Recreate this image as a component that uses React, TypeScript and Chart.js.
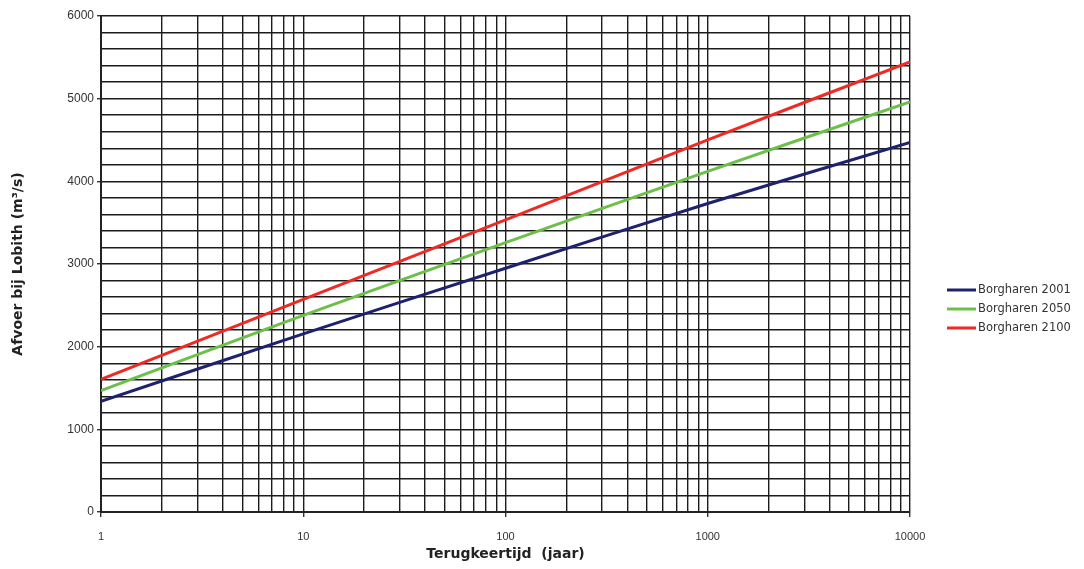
import React, { useEffect, useRef } from "react";
import { Chart, registerables } from "chart.js";

Chart.register(...registerables);

// Return period (years) and discharge series (m3/s)
const returnPeriods = [1, 10, 100, 1000, 10000];
const borgharen2001 = [1340, 2155, 2949, 3732, 4472];
const borgharen2050 = [1470, 2379, 3258, 4120, 4962];
const borgharen2100 = [1605, 2573, 3533, 4502, 5445];

const seriesLabels = ["Borgharen 2001", "Borgharen 2050", "Borgharen 2100"];
const seriesColors = ["#1e226e", "#6cc04a", "#ee2a24"];

const xTickLabels = [1, 10, 100, 1000, 10000];
const yTickLabels = [0, 1000, 2000, 3000, 4000, 5000, 6000];

const FONT = "'DejaVu Sans', Lato, sans-serif";
const TICKFONT = "'Liberation Sans', Arial, sans-serif";

const legendPlugin = {
  id: "sideLegend",
  afterDraw(chart: any) {
    const ctx = chart.ctx;
    ctx.save();
    chart.data.datasets.forEach((ds: any, i: number) => {
      const y = 290 + i * 19;
      ctx.strokeStyle = ds.borderColor;
      ctx.lineWidth = 3;
      ctx.beginPath();
      ctx.moveTo(947, y);
      ctx.lineTo(976, y);
      ctx.stroke();
      ctx.fillStyle = "#333";
      ctx.font = `11.5px ${FONT}`;
      ctx.textBaseline = "middle";
      ctx.textAlign = "left";
      ctx.fillText(ds.label, 978, y + 0.5);
    });
    ctx.restore();
  },
};

export default function App() {
  const ref = useRef<HTMLCanvasElement | null>(null);

  useEffect(() => {
    if (!ref.current) return;
    const series = [borgharen2001, borgharen2050, borgharen2100];
    const minorTicks: number[] = [];
    for (let d = 0; d < xTickLabels.length - 1; d++) {
      for (let m = 1; m <= 9; m++) minorTicks.push(xTickLabels[d] * m);
    }
    minorTicks.push(xTickLabels[xTickLabels.length - 1]);

    const chart = new Chart(ref.current, {
      type: "line",
      data: {
        datasets: series.map((vals, i) => ({
          label: seriesLabels[i],
          data: vals.map((v, j) => ({ x: returnPeriods[j], y: v })),
          borderColor: seriesColors[i],
          backgroundColor: seriesColors[i],
          borderWidth: 3,
          pointRadius: 0,
          tension: 0.3,
          fill: false,
        })),
      },
      options: {
        animation: false,
        responsive: true,
        maintainAspectRatio: false,
        layout: { padding: { left: 0, right: 174, top: 16, bottom: 0 } },
        plugins: {
          legend: { display: false },
          title: { display: false },
          tooltip: { enabled: false },
        },
        scales: {
          x: {
            type: "logarithmic",
            min: 1,
            max: 10000,
            afterBuildTicks: (scale: any) => {
              scale.ticks = minorTicks.map((v) => ({ value: v }));
            },
            afterFit: (scale: any) => {
              scale.height = 57;
            },
            ticks: {
              autoSkip: false,
              maxRotation: 0,
              padding: 13,
              color: "#333",
              font: { family: TICKFONT, size: 11 },
              callback: (v: any) => (xTickLabels.includes(Number(v)) ? String(v) : ""),
            },
            grid: {
              color: "#1c1c1c",
              lineWidth: 1.4,
              tickLength: 5,
              tickColor: (c: any) =>
                xTickLabels.includes(c.tick?.value) ? "#333" : "rgba(0,0,0,0)",
            },
            border: { color: "#222", width: 2 },
            title: {
              display: true,
              text: "Terugkeertijd  (jaar)",
              color: "#222",
              font: { family: FONT, size: 14, weight: "bold" },
              padding: { top: 0, bottom: 6 },
            },
          },
          y: {
            type: "linear",
            min: 0,
            max: 6000,
            afterFit: (scale: any) => {
              scale.width = 101;
            },
            ticks: {
              stepSize: 200,
              autoSkip: false,
              padding: 3,
              color: "#333",
              font: { family: TICKFONT, size: 12 },
              callback: (v: any) => (yTickLabels.includes(Number(v)) ? String(v) : ""),
            },
            grid: {
              color: "#1c1c1c",
              lineWidth: 1.4,
              tickLength: 4,
              tickColor: (c: any) =>
                yTickLabels.includes(c.tick?.value) ? "#333" : "rgba(0,0,0,0)",
            },
            border: { color: "#222", width: 2 },
            title: {
              display: true,
              text: "Afvoer bij Lobith (m³/s)",
              color: "#222",
              font: { family: FONT, size: 14, weight: "bold" },
              padding: { top: 10, bottom: 4 },
            },
          },
        },
      },
      plugins: [legendPlugin],
    });
    return () => chart.destroy();
  }, []);

  return (
    <div style={{ position: "fixed", left: 0, top: 0, width: 1084, height: 569, background: "#fff" }}>
      <canvas ref={ref} />
    </div>
  );
}
